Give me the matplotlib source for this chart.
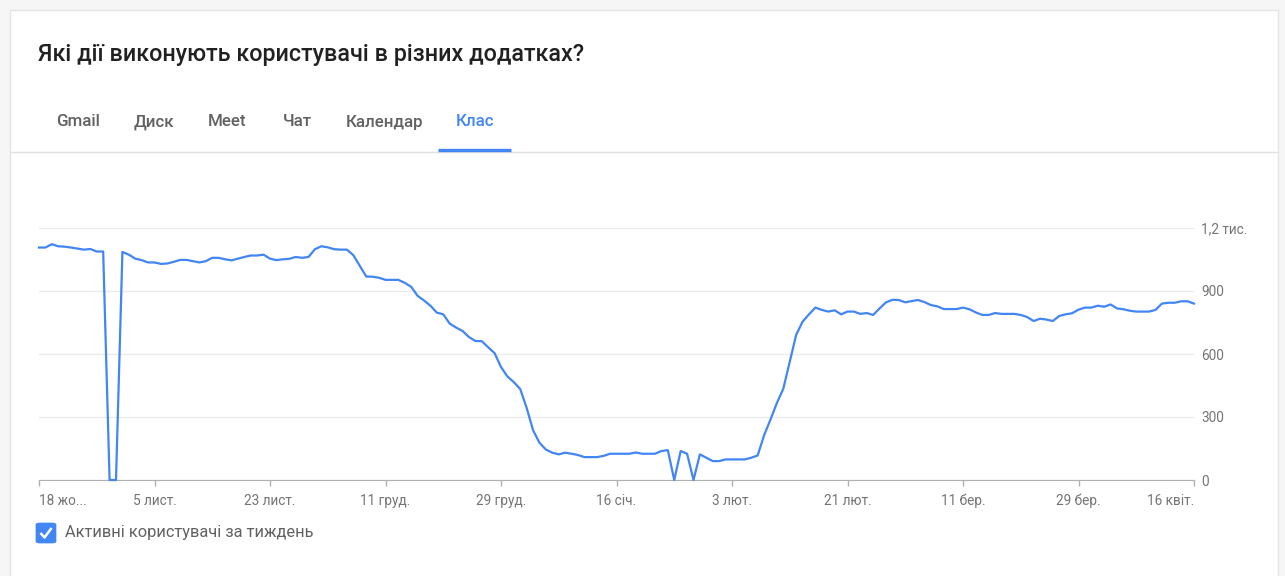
import numpy as np
import pandas as pd
import matplotlib
matplotlib.use("Agg")
import matplotlib.pyplot as plt
from matplotlib.patches import Rectangle, FancyBboxPatch
from matplotlib.lines import Line2D

# daily active users of Classroom, 18 Oct -> 16 Apr
dates = pd.date_range("2020-10-18", "2021-04-16", freq="D")
users = [
    1107, 1107, 1123, 1113, 1111, 1107, 1102, 1097, 1100, 1088,
    1088, 0, 0, 1086, 1073, 1054, 1047, 1036, 1036, 1029,
    1031, 1039, 1048, 1048, 1042, 1036, 1042, 1058, 1058, 1051,
    1046, 1054, 1062, 1069, 1069, 1073, 1054, 1047, 1051, 1053,
    1062, 1058, 1062, 1099, 1113, 1108, 1099, 1097, 1097, 1070,
    1020, 969, 968, 963, 953, 953, 953, 939, 920, 877,
    855, 830, 797, 789, 745, 726, 710, 681, 662, 661,
    632, 604, 538, 493, 466, 433, 343, 237, 177, 145,
    130, 122, 130, 125, 119, 109, 109, 109, 115, 125,
    125, 125, 125, 131, 125, 125, 125, 138, 142, 0,
    138, 125, 0, 122, 106, 90, 90, 98, 98, 98,
    98, 106, 117, 213, 288, 367, 435, 564, 691, 754,
    789, 821, 810, 802, 808, 789, 802, 802, 791, 795,
    786, 817, 846, 858, 857, 846, 852, 857, 847, 833,
    827, 814, 814, 814, 821, 813, 798, 786, 786, 795,
    791, 791, 791, 786, 776, 757, 768, 764, 757, 781,
    789, 794, 811, 821, 821, 830, 825, 836, 817, 813,
    806, 802, 802, 802, 810, 840, 844, 844, 851, 851,
    840,
]

tick_dates = pd.to_datetime([
    "2020-10-18", "2020-11-05", "2020-11-23", "2020-12-11", "2020-12-29",
    "2021-01-16", "2021-02-03", "2021-02-21", "2021-03-11", "2021-03-29",
    "2021-04-16",
])
tick_labels = ["18 жо...", "5 лист.", "23 лист.", "11 груд.", "29 груд.",
               "16 січ.", "3 лют.", "21 лют.", "11 бер.", "29 бер.", "16 квіт."]
y_ticks = [0, 300, 600, 900, 1200]
y_labels = ["0", "300", "600", "900", "1,2 тис."]

tabs = ["Gmail", "Диск", "Meet", "Чат", "Календар", "Клас"]
tab_x = [56, 134, 208, 283, 346, 456]

W, H = 1285, 576
BLUE = "#4285f4"
GREY = "#757575"

plt.rcParams['font.family'] = ['Roboto', 'DejaVu Sans']

fig = plt.figure(figsize=(W / 100, H / 100), dpi=100, facecolor="#f6f6f6")


def fx(x):
    return x / W


def fy(y):
    return 1 - y / H


# white card, runs past the bottom edge
fig.patches.append(Rectangle((fx(10), fy(600)), fx(1268), (600 - 10) / H,
                             transform=fig.transFigure, facecolor="white",
                             edgecolor="#e4e4e4", lw=1, zorder=-5))

fig.text(fx(38), fy(55), "Які дії виконують користувачі в різних додатках?",
         fontsize=16.8, fontweight="medium", color="#212121", va="center", ha="left")

for name, x in zip(tabs, tab_x):
    fig.text(fx(x), fy(122), name, fontsize=12.2, fontweight="medium",
             color=BLUE if name == "Клас" else "#616161", va="center", ha="left")

fig.add_artist(Line2D([fx(11), fx(1277)], [fy(152), fy(152)], color="#e0e0e0", lw=1))
fig.add_artist(Line2D([fx(438), fx(511)], [fy(150), fy(150)], color=BLUE, lw=2.4,
                      solid_capstyle="butt"))

# chart
ax = fig.add_axes([fx(39), fy(480), fx(1194) - fx(39), fy(228) - fy(480)], zorder=2)
ax.set_facecolor("none")
ax.plot(dates, users, color=BLUE, lw=1.6, clip_on=False, zorder=3)
ax.set_xlim(dates[0], dates[-1])
ax.set_ylim(0, 1200)

ax.yaxis.tick_right()
ax.set_yticks(y_ticks)
ax.set_yticklabels(y_labels)
ax.tick_params(axis="y", length=0, pad=5, labelsize=9.8, labelcolor=GREY)
ax.yaxis.grid(True, color="#ebebeb", lw=1)
ax.set_axisbelow(True)

ax.set_xticks(tick_dates)
ax.set_xticklabels(tick_labels)
ax.tick_params(axis="x", length=4, width=1, color="#b0b0b0", pad=6,
               labelsize=9.8, labelcolor=GREY)
lbls = ax.get_xticklabels()
lbls[0].set_horizontalalignment("left")
lbls[-1].set_horizontalalignment("right")

for s in ["top", "left", "right"]:
    ax.spines[s].set_visible(False)
ax.spines["bottom"].set_color("#b0b0b0")

# legend checkbox
fig.patches.append(FancyBboxPatch((fx(36), fy(543)), fx(20), fy(523) - fy(543),
                                  boxstyle="round,pad=0,rounding_size=0.003",
                                  transform=fig.transFigure, facecolor=BLUE,
                                  edgecolor=BLUE, lw=0.5))
fig.add_artist(Line2D([fx(40.5), fx(44.5), fx(51.5)], [fy(533), fy(537.5), fy(528)],
                      color="white", lw=1.8, solid_capstyle="butt"))
fig.text(fx(65), fy(532), "Активні користувачі за тиждень", fontsize=11.8,
         color="#616161", va="center", ha="left")

fig.savefig("out.png", dpi=100, facecolor=fig.get_facecolor())
